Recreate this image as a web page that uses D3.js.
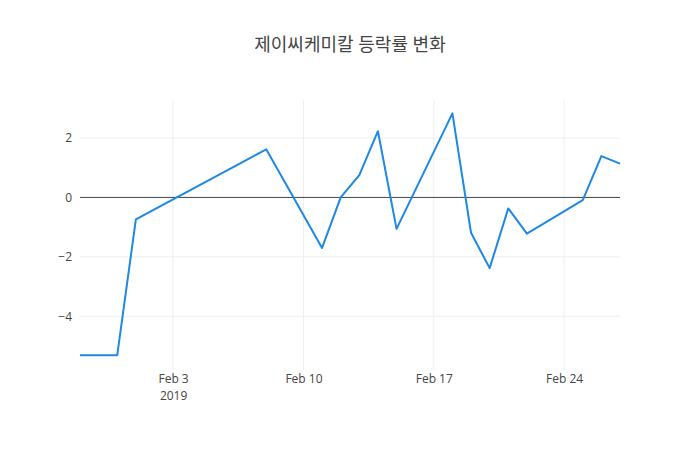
<!DOCTYPE html>
<html>
<head>
<meta charset="utf-8">
<script src="https://cdn.jsdelivr.net/npm/d3@7"></script>
<style>
  body { margin: 0; background: #fff; }
  text { font-family: "Open Sans", "Noto Sans CJK KR", sans-serif; }
</style>
</head>
<body>
<div id="chart"></div>
<script>
const title = '제이씨케미칼 등락률 변화'
const dates = [
  '2019-01-29', '2019-01-31', '2019-02-01', '2019-02-08', '2019-02-11',
  '2019-02-12', '2019-02-13', '2019-02-14', '2019-02-15', '2019-02-18',
  '2019-02-19', '2019-02-20', '2019-02-21', '2019-02-22', '2019-02-25',
  '2019-02-26', '2019-02-27'
]
const rates = [
  -5.31, -5.31, -0.74, 1.62, -1.70,
  0.0, 0.75, 2.23, -1.06, 2.83,
  -1.19, -2.38, -0.37, -1.22, -0.09,
  1.39, 1.14
]
const xTicks = ['2019-02-03', '2019-02-10', '2019-02-17', '2019-02-24']
const yTicks = [-4, -2, 0, 2]

const width = 700
const height = 450
const margin = { top: 100, right: 80, bottom: 80, left: 80 }

const parse = d3.utcParse('%Y-%m-%d')
const data = dates.map((d, i) => ({ date: parse(d), value: rates[i] }))

const x = d3.scaleUtc()
  .domain(d3.extent(data, (d) => d.date))
  .range([margin.left, width - margin.right])

const y = d3.scaleLinear()
  .domain([-5.81, 3.28])
  .range([height - margin.bottom, margin.top])

const svg = d3.select('#chart')
  .append('svg')
  .attr('width', width)
  .attr('height', height)

svg.append('text')
  .attr('x', width / 2)
  .attr('y', 45)
  .attr('dy', '0.35em')
  .attr('text-anchor', 'middle')
  .attr('font-size', 18)
  .attr('fill', '#444')
  .text(title)

// grid
const grid = svg.append('g')
grid.selectAll('line.vx')
  .data(xTicks.map(parse))
  .join('line')
  .attr('x1', (d) => x(d))
  .attr('x2', (d) => x(d))
  .attr('y1', margin.top)
  .attr('y2', height - margin.bottom)
  .attr('stroke', '#eee')

grid.selectAll('line.hy')
  .data(yTicks.filter((d) => d !== 0))
  .join('line')
  .attr('x1', margin.left)
  .attr('x2', width - margin.right)
  .attr('y1', (d) => y(d))
  .attr('y2', (d) => y(d))
  .attr('stroke', '#eee')

// zero line
svg.append('line')
  .attr('x1', margin.left)
  .attr('x2', width - margin.right)
  .attr('y1', y(0))
  .attr('y2', y(0))
  .attr('stroke', '#444')
  .attr('stroke-width', 1)

// y axis labels
const yAxis = d3.axisLeft(y)
  .tickValues(yTicks)
  .tickSize(0)
  .tickPadding(6)
  .tickFormat((d) => (d < 0 ? '\u2212' + Math.abs(d) : d))
svg.append('g')
  .attr('transform', `translate(${margin.left - 2},0)`)
  .call(yAxis)
  .call((g) => g.select('.domain').remove())
  .call((g) => g.selectAll('text').attr('font-size', 12).attr('fill', '#444')
    .style('font-family', '"Open Sans", sans-serif'))

// x axis labels
const fmt = d3.utcFormat('%b %-d')
const xAxis = d3.axisBottom(x)
  .tickValues(xTicks.map(parse))
  .tickSize(0)
  .tickPadding(4)
  .tickFormat(fmt)
const xg = svg.append('g')
  .attr('transform', `translate(0,${height - margin.bottom})`)
  .call(xAxis)
  .call((g) => g.select('.domain').remove())
xg.selectAll('text').attr('font-size', 12).attr('fill', '#444')
  .style('font-family', '"Open Sans", sans-serif')
xg.selectAll('.tick')
  .filter((d, i) => i === 0)
  .append('text')
  .attr('y', 21)
  .attr('dy', '0.71em')
  .attr('font-size', 12)
  .attr('fill', '#444')
  .attr('text-anchor', 'middle')
  .style('font-family', '"Open Sans", sans-serif')
  .text('2019')

// line
const line = d3.line()
  .x((d) => x(d.date))
  .y((d) => y(d.value))

svg.append('path')
  .datum(data)
  .attr('d', line)
  .attr('fill', 'none')
  .attr('stroke', '#1e88e5')
  .attr('stroke-width', 2)
  .attr('stroke-linejoin', 'round')
</script>
</body>
</html>
